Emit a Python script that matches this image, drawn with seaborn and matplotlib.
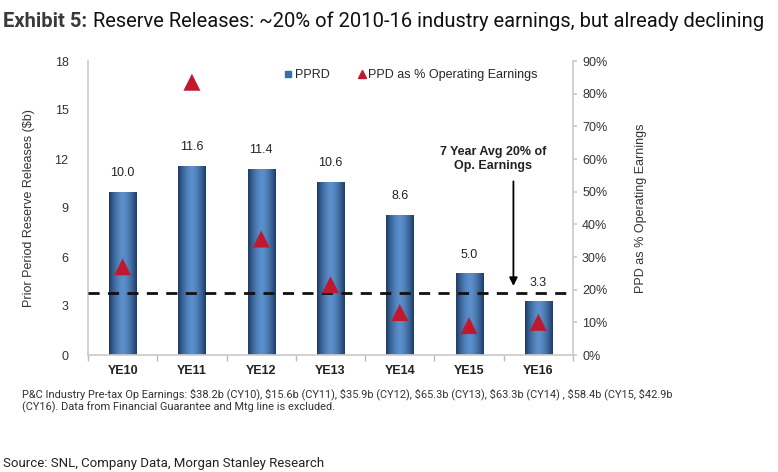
import matplotlib
matplotlib.use("Agg")
import matplotlib.pyplot as plt
import numpy as np
import pandas as pd
import seaborn as sns
from matplotlib.lines import Line2D

years = ["YE10", "YE11", "YE12", "YE13", "YE14", "YE15", "YE16"]
pprd = [10.0, 11.6, 11.4, 10.6, 8.6, 5.0, 3.3]
ppd_pct = [27.0, 83.5, 35.5, 21.5, 13.0, 9.0, 10.0]
avg_pct = 19.0

BAR_DARK = "#1d3c66"
BAR_LIGHT = "#5b8fcb"
TRI_RED = "#c0182f"
NARROW = ["Roboto", "DejaVu Sans"]

sns.set_theme(style="white")
plt.rcParams["font.family"] = ["Liberation Sans", "DejaVu Sans"]

df = pd.DataFrame({"year": years, "pprd": pprd, "pct": ppd_pct, "pos": range(len(years))})

fig = plt.figure(figsize=(7.78, 4.72), dpi=100)
ax = fig.add_axes([88 / 778, 1 - 355 / 472, 485 / 778, 294 / 472])

sns.barplot(data=df, x="year", y="pprd", color=BAR_DARK, width=0.39, ax=ax, zorder=2)

# horizontal gradient inside each bar (dark edges, light centre)
grad = np.abs(np.linspace(-1, 1, 64)) ** 1.6
cmap = matplotlib.colors.LinearSegmentedColormap.from_list("bar", [BAR_LIGHT, BAR_DARK])
for p in ax.patches:
    x0, w, h = p.get_x(), p.get_width(), p.get_height()
    im = ax.imshow(grad[np.newaxis, :], extent=[x0, x0 + w, 0, h], aspect="auto",
                   cmap=cmap, vmin=0, vmax=1, zorder=2.1)
    im.set_clip_path(p)
    ax.annotate(f"{h:.1f}", (p.get_x() + w / 2, h), xytext=(0, 9), textcoords="offset points",
                ha="center", va="bottom", fontsize=9, color="#222222")

ax.set_xlim(-0.5, len(years) - 0.5)
ax.set_ylim(0, 18)
ax.set_yticks(range(0, 19, 3))
ax.set_xlabel("")
ax.set_ylabel("Prior Period Reserve Releases ($b)", fontsize=9, color="#333333", labelpad=14)
ax.tick_params(axis="y", labelsize=9, colors="#333333", length=0, pad=14)
ax.tick_params(axis="x", labelsize=9, length=0, pad=7)
for lbl in ax.get_xticklabels():
    lbl.set_fontweight("bold")
    lbl.set_color("#222222")
ax.set_xticks(np.arange(-0.5, len(years), 1), minor=True)
ax.tick_params(axis="x", which="minor", length=4, color="#bbbbbb", bottom=True)
for s in ["top", "right"]:
    ax.spines[s].set_visible(False)
ax.spines["left"].set_color("#cccccc")
ax.spines["bottom"].set_color("#cccccc")

ax2 = ax.twinx()
sns.scatterplot(data=df, x="pos", y="pct", marker="^", s=150, color=TRI_RED,
                edgecolor="none", ax=ax2, zorder=4)
ax2.set_ylim(0, 90)
ax2.set_yticks(range(0, 91, 10))
ax2.set_yticklabels([f"{v}%" for v in range(0, 91, 10)])
ax2.tick_params(axis="y", labelsize=9, colors="#333333", length=3, color="#cccccc", direction="out")
ax2.set_ylabel("PPD as % Operating Earnings", fontsize=9, color="#333333", labelpad=20)
for s in ["top", "left", "bottom"]:
    ax2.spines[s].set_visible(False)
ax2.spines["right"].set_color("#cccccc")
ax2.set_xlim(-0.5, len(years) - 0.5)
ax2.set_xlabel("")
ax2.axhline(avg_pct, color="#111111", lw=2, ls=(0, (4, 3)), zorder=3)

ax2.text(5.35, 60, "7 Year Avg 20% of\nOp. Earnings", ha="center", va="center",
         fontsize=9, fontweight="bold", color="#222222", linespacing=1.2)
ax2.annotate("", xy=(5.64, 20.3), xytext=(5.64, 54),
             arrowprops=dict(arrowstyle="-|>", color="black", lw=1.3, mutation_scale=12))

handles = [
    Line2D([], [], ls="none", marker="s", markersize=5, color="#3a6ea5"),
    Line2D([], [], ls="none", marker="^", markersize=6, color=TRI_RED),
]
ax2.legend(handles, ["PPRD", "PPD as % Operating Earnings"], loc="upper center",
           bbox_to_anchor=(0.665, 1.01), ncol=2, frameon=False, fontsize=9,
           handletextpad=0.1, columnspacing=2.2, handlelength=0.8)

# title: shrink the font until both parts fit the width of the figure
title_size = 15.0
while True:
    t1 = fig.text(0.004, 0.975, "Exhibit 5:", fontsize=title_size, fontweight="bold",
                  color="#3a3a3a", family=NARROW, va="top", ha="left")
    fig.canvas.draw()
    bb = t1.get_window_extent()
    t2 = fig.text(bb.x1 / 778 + 0.008, 0.975,
                  "Reserve Releases: ~20% of 2010-16 industry earnings, but already declining",
                  fontsize=title_size, color="#111111", family=NARROW, va="top", ha="left")
    fig.canvas.draw()
    if t2.get_window_extent().x1 <= 774 or title_size < 9:
        break
    t1.remove()
    t2.remove()
    title_size -= 0.25

fig.text(22 / 778, 1 - 401 / 472,
         "P&C Industry Pre-tax Op Earnings: $38.2b (CY10), $15.6b (CY11), $35.9b (CY12), $65.3b (CY13), $63.3b (CY14) , $58.4b (CY15, $42.9b\n"
         "(CY16). Data from Financial Guarantee and Mtg line is excluded.",
         fontsize=7.9, color="#333333", family=NARROW, va="center", ha="left", linespacing=1.15)
fig.text(3 / 778, 1 - 463 / 472, "Source: SNL, Company Data, Morgan Stanley Research",
         fontsize=9.5, color="#222222", family=NARROW, va="center", ha="left")

fig.savefig("out.png", dpi=100)
